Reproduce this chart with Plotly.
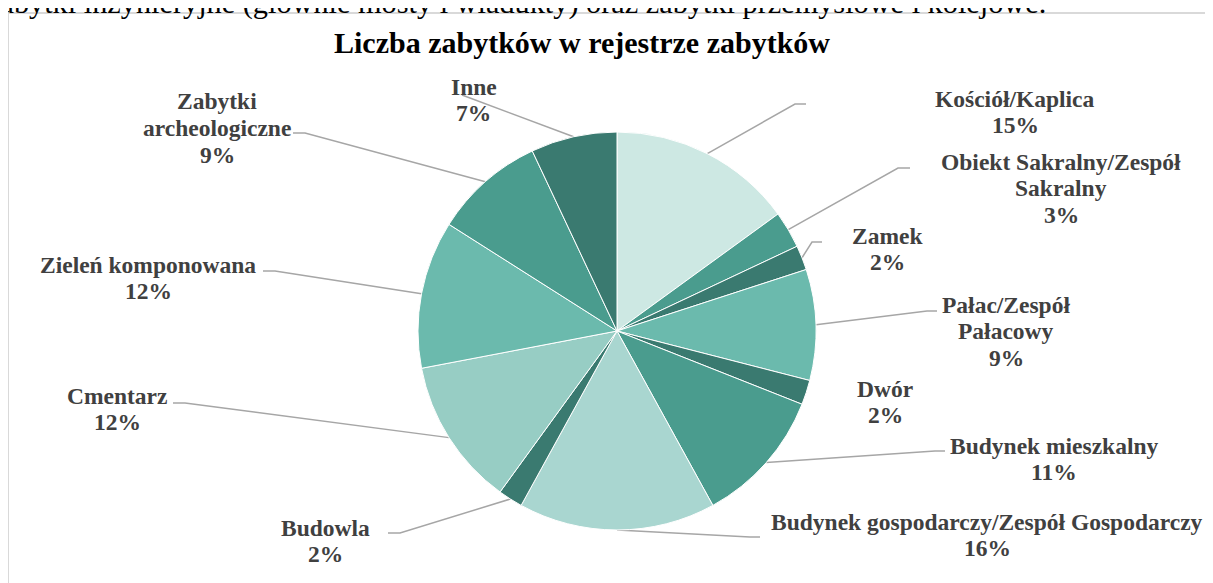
import math
import plotly.graph_objects as go

W, H = 1213, 583
OFF = 8  # domyślny margines <body> strony

# dane
kategorie = [
    "Kościół/Kaplica", "Obiekt Sakralny/Zespół<br>Sakralny", "Zamek",
    "Pałac/Zespół<br>Pałacowy", "Dwór", "Budynek mieszkalny",
    "Budynek gospodarczy/Zespół Gospodarczy", "Budowla", "Cmentarz",
    "Zieleń komponowana", "Zabytki<br>archeologiczne", "Inne",
]
udzialy = [15, 3, 2, 9, 2, 11, 16, 2, 12, 12, 9, 7]
kolory = [
    "#cde8e3", "#4a9c8e", "#3a7a70", "#6bbaad", "#3a7a70", "#4a9c8e",
    "#a9d6d0", "#3a7a70", "#97cdc4", "#6bbaad", "#4a9c8e", "#3a7a70",
]

# pozycje etykiet (px): środek bloku tekstu, załamanie linii, koniec linii
etykiety_xy = [(1015, 112), (1061, 188), (887, 249), (1006, 331), (885, 402), (1054, 459),
               (987, 535), (325, 541), (117, 409), (148, 278), (217, 128), (474, 100)]
linie_xy = [((795, 104), (806, 104)), ((898, 168), (910, 168)), ((812, 242), (822, 242)),
            ((927, 311), (937, 311)), None, ((935, 451), (945, 451)),
            ((750, 537), (760, 537)), ((400, 533), (388, 533)), ((185, 403), (173, 403)),
            ((275, 271), (263, 271)), ((305, 133), (293, 133)), ((462, 95), (462, 95))]

cx, cy, r = 617, 331, 199
odstep = 26.5
czcionka = "Liberation Serif, Times New Roman, serif"


def px(x):
    return (x - OFF) / W


def py(y):
    return 1 - (y - OFF) / H


fig = go.Figure()

fig.add_trace(go.Pie(
    labels=[k.replace("<br>", " ") for k in kategorie],
    values=udzialy,
    sort=False,
    direction="clockwise",
    rotation=0,
    textinfo="none",
    hoverinfo="label+percent",
    marker=dict(colors=kolory, line=dict(color="white", width=1)),
    domain=dict(x=[px(cx - r), px(cx + r)], y=[py(cy + r), py(cy - r)]),
    showlegend=False,
))

suma = sum(udzialy)
narast = 0
annotations = []
shapes = []
for i, (kat, v) in enumerate(zip(kategorie, udzialy)):
    srodek = (narast + v / 2) / suma * 2 * math.pi
    narast += v
    ex = cx + r * math.sin(srodek)
    ey = cy - r * math.cos(srodek)
    tx, ty = etykiety_xy[i]
    wiersze = kat.split("<br>") + [f"{round(v / suma * 100)}%"]
    n = len(wiersze)
    for k, w in enumerate(wiersze):
        annotations.append(dict(
            x=px(tx), y=py(ty + (k - (n - 1) / 2) * odstep), xref="paper", yref="paper",
            text=f"<b>{w}</b>", showarrow=False, xanchor="center", yanchor="middle",
            font=dict(family=czcionka, size=23.5, color="#404040"),
        ))
    if linie_xy[i] is not None:
        (bx, by), (kx, ky) = linie_xy[i]
        path = f"M {px(ex)} {py(ey)} L {px(bx)} {py(by)} L {px(kx)} {py(ky)}"
        shapes.append(dict(type="path", xref="paper", yref="paper", path=path,
                           line=dict(color="#a6a6a6", width=1.5), layer="below"))

# tytuł
annotations.append(dict(
    x=px(582), y=py(42), xref="paper", yref="paper",
    text="<b>Liczba zabytków w rejestrze zabytków</b>", showarrow=False,
    xanchor="center", yanchor="middle",
    font=dict(family=czcionka, size=30, color="#000000"),
))

# ucięty wiersz tekstu dokumentu nad wykresem
annotations.append(dict(
    x=px(-15), y=py(3), xref="paper", yref="paper",
    text="zabytki inżynieryjne (głównie mosty i wiadukty) oraz zabytki przemysłowe i kolejowe.",
    showarrow=False, xanchor="left", yanchor="middle",
    font=dict(family=czcionka, size=30.3, color="#000000"),
))

# ramka obszaru wykresu
shapes.append(dict(type="rect", xref="paper", yref="paper",
                   x0=px(8), y0=py(13), x1=1.1, y1=-0.1,
                   line=dict(color="#d9d9d9", width=2)))

fig.update_layout(
    width=W, height=H,
    margin=dict(l=0, r=0, t=0, b=0),
    paper_bgcolor="white",
    plot_bgcolor="white",
    annotations=annotations,
    shapes=shapes,
)

fig.write_html("out.html")
